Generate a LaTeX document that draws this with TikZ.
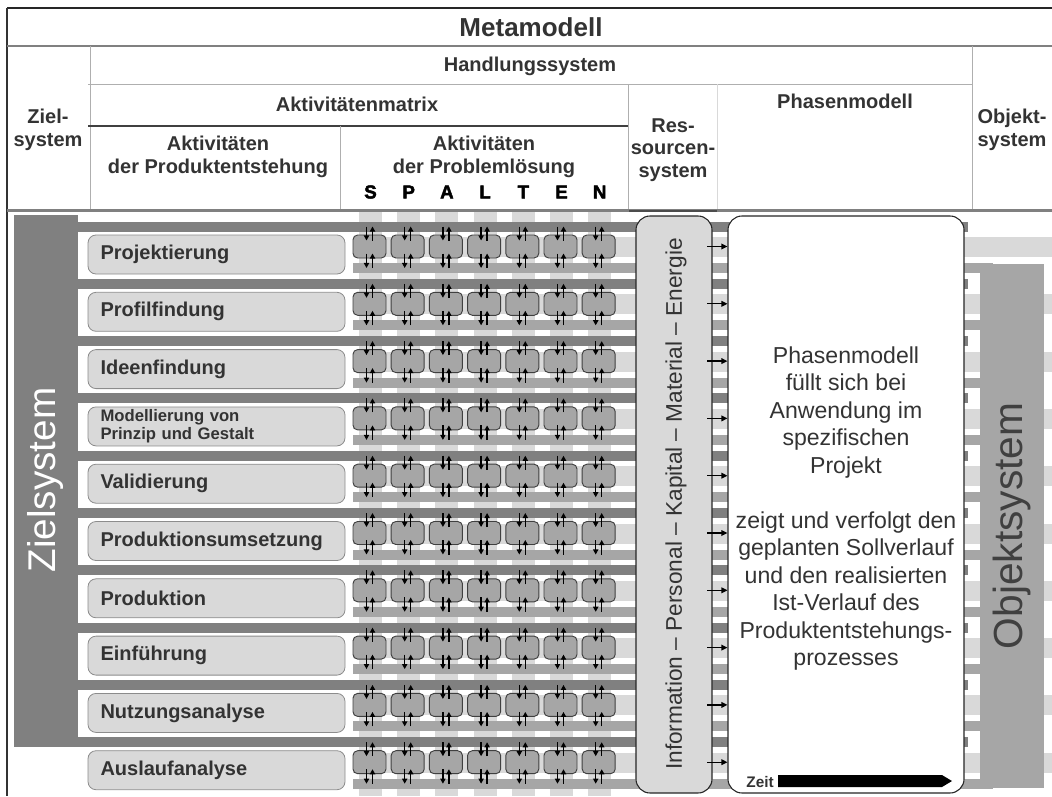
\documentclass[tikz,border=0pt]{standalone}
\usepackage{fontspec}
\setmainfont{Liberation Sans}
\newfontfamily\spaltenfont[FakeBold=2.5]{Liberation Sans Bold}
\usetikzlibrary{arrows.meta}

\definecolor{bandDark}{HTML}{808080}
\definecolor{bandMid}{HTML}{A6A6A6}
\definecolor{bandLight}{HTML}{D9D9D9}
\definecolor{txt}{HTML}{333333}
\definecolor{rulegray}{HTML}{8C8C8C}

\tikzset{
  hdr/.style={text=txt, font=\bfseries\fontsize{15}{17}\selectfont, align=center, inner sep=0pt},
  labbox/.style={draw=rulegray, fill=bandLight, rounded corners=6pt, line width=0.6pt,
    minimum width=192.75pt, minimum height=29.25pt, text width=174pt, align=left,
    inner xsep=9pt, inner ysep=0pt, text=txt, font=\bfseries\fontsize{15}{17}\selectfont},
  cellbox/.style={draw=black!75, fill=bandMid, rounded corners=3.5pt, line width=0.7pt,
    minimum width=24.75pt, minimum height=17.25pt, inner sep=0pt},
  pairtip/.style={-{Triangle[length=3.8pt,width=3.9pt]}, line width=1.1pt, black},
  resarrow/.style={-{Triangle[length=4.5pt,width=4.2pt]}, line width=1pt, black},
  bigbox/.style={draw=black!85, line width=0.8pt, rounded corners=10.5pt, inner sep=0pt},
  thinrule/.style={draw=rulegray!70, line width=0.6pt},
}

\begin{document}
\begin{tikzpicture}[x=0.75pt,y=-0.75pt]
\useasboundingbox (0,0) rectangle (1052,796);

% ---- woven background of the activity matrix ----
\foreach \k in {0,...,6}
  \fill[bandLight] ({370.5+38.2*\k-11.5},212) rectangle ({370.5+38.2*\k+11.5},796);
\foreach \i in {0,...,9}{
  \pgfmathsetmacro\cy{254.5+57.3*\i}
  \fill[bandLight] (353,\cy-17.5) rectangle (1052,\cy+2.5);
  \fill[bandMid]   (353,\cy+8.5)  rectangle (993,\cy+18.5);
  \fill[bandDark]  (78,\cy-33)    rectangle (968,\cy-23);
}

% ---- goal system and object system bars ----
\node[fill=bandDark, minimum width=48pt, minimum height=399pt, inner sep=0pt] (zielbar) at (46,481) {};
\node[rotate=90, text=white, font=\fontsize{29}{32}\selectfont] (zieltext) at (46,480) {Zielsystem};
\node[fill=bandMid, minimum width=48pt, minimum height=393pt, inner sep=0pt] (objbar) at (1012,526) {};
\node[rotate=90, text=black!75, font=\fontsize{30.5}{33}\selectfont] (objtext) at (1012,526) {Objektsystem};

% ---- activities of product development ----
\foreach \i/\lab in {0/Projektierung,1/Profilfindung,2/Ideenfindung,4/Validierung,
    5/Produktionsumsetzung,6/Produktion,7/Einführung,8/Nutzungsanalyse,9/Auslaufanalyse}
  \node[labbox] (lab\i) at (216.5,{254.5+57.3*\i}) {\lab};
\node[labbox, font=\bfseries\fontsize{12.5}{13.2}\selectfont] (lab3) at (216.5,{254.5+57.3*3})
  {Modellierung von\\Prinzip und Gestalt};

% ---- problem solving cells (SPALTEN) with exchange arrows ----
\foreach \i in {0,...,9}{
  \foreach \k in {0,...,6}{
    \pgfmathsetmacro\cx{369.5+38.2*\k}
    \pgfmathsetmacro\cy{254.5+57.3*\i}
    \node[cellbox] (c\i\k) at (\cx,\cy-8) {};
    \draw[pairtip] (\cx-3,\cy-28) -- (\cx-3,\cy-14);
    \draw[pairtip] (\cx+3,\cy-14) -- (\cx+3,\cy-28);
    \draw[pairtip] (\cx-3,\cy-1) -- (\cx-3,\cy+13.5);
    \draw[pairtip] (\cx+3,\cy+13.5) -- (\cx+3,\cy-1);
  }
}

% ---- resource system and phase model ----
\node[bigbox, fill=bandLight, minimum width=57pt, minimum height=432.75pt] (res) at (674,504.5) {};
\node[rotate=90, text=txt, font=\fontsize{17}{20}\selectfont] (restext) at (676,504)
  {Information – Personal – Kapital – Material – Energie};
\node[bigbox, fill=white, minimum width=177pt, minimum height=432.75pt] (phase) at (846,504.5) {};
\node[text=txt, align=center, font=\fontsize{17.3}{20.6}\selectfont, inner sep=0pt] (phasetext) at (846,508.5)
  {Phasenmodell\\füllt sich bei\\Anwendung im\\spezifischen\\Projekt\\[20.6pt]
   zeigt und verfolgt den\\geplanten Sollverlauf\\und den realisierten\\Ist-Verlauf des\\
   Produktentstehungs-\\prozesses};
\foreach \i in {0,...,9}
  \draw[resarrow, shorten <=-4pt] (res.east |- 0,{246.5+57.3*\i}) -- (phase.west |- 0,{246.5+57.3*\i});

% time axis inside the phase model
\node[text=txt, font=\bfseries\fontsize{11.5}{13}\selectfont, anchor=east, inner sep=0pt] (zeit) at (774,782) {Zeit};
\fill[black] (778,775) -- (942,775) -- (952,781) -- (942,787) -- (778,787) -- cycle;

% ---- header ----
\draw[black!85, line width=1.1pt] (7,8) -- (1052,8);
\draw[black!80, line width=1.1pt] (7,8) -- (7,796);
\draw[bandDark, line width=1.5pt] (7,46) -- (1052,46);
\draw[thinrule] (90,46) -- (90,210);
\draw[thinrule] (88,84) -- (972,84);
\draw[thinrule] (972,46) -- (972,210);
\draw[black!75, line width=1.3pt] (88,126) -- (628,126);
\draw[thinrule] (628,84) -- (628,210);
\draw[draw=bandLight, line width=0.5pt] (717,84) -- (717,210);
\draw[thinrule] (340,126) -- (340,210);
\draw[bandDark, line width=1.6pt] (7,210.5) -- (1052,210.5);
\draw[black!70, line width=1.2pt] (629,211) -- (717,211);

\node[hdr, font=\bfseries\fontsize{19.5}{22}\selectfont] (meta) at (531,27) {Metamodell};
\node[hdr] (hand) at (530,66) {Handlungssystem};
\node[hdr] (ziel) at (48,130) {Ziel-\\system};
\node[hdr] (amat) at (357,104) {Aktivitätenmatrix};
\node[hdr] (ressh) at (673,150) {Res-\\sourcen-\\system};
\node[hdr] (phaseh) at (845,101) {Phasenmodell};
\node[hdr] (objh) at (1012,130) {Objekt-\\system};
\node[hdr] (apro) at (218,157) {Aktivitäten\\der Produktentstehung};
\node[hdr] (aprob) at (484,157) {Aktivitäten\\der Problemlösung};
\foreach \k/\ch in {0/S,1/P,2/A,3/L,4/T,5/E,6/N}
  \node[text=black, font=\spaltenfont\fontsize{14}{16}\selectfont, inner sep=0pt] (sp\k) at ({370.5+38.2*\k},192) {\ch};
\end{tikzpicture}
\end{document}
